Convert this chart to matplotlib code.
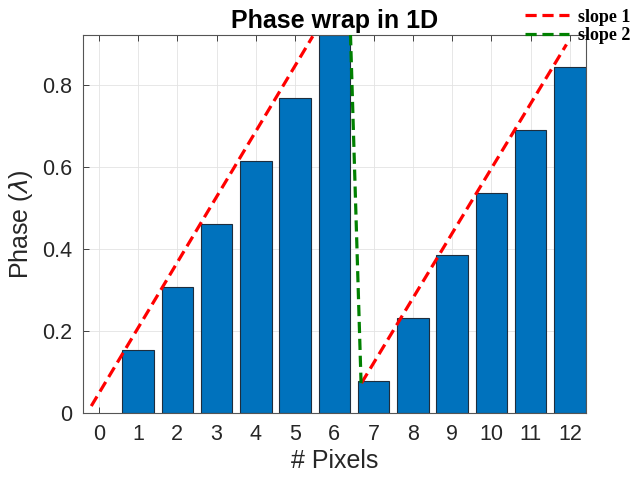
import matplotlib
matplotlib.use("Agg")
import matplotlib.pyplot as plt

# data
pixels = [1, 2, 3, 4, 5, 6, 7, 8, 9, 10, 11, 12]
phase = [0.154, 0.308, 0.462, 0.615, 0.769, 0.923, 0.077, 0.231, 0.385, 0.538, 0.692, 0.846]
xticks = list(range(0, 13))
yticks = [0, 0.2, 0.4, 0.6, 0.8]

# guide lines (x, y) endpoints
slope1_a_x = [-0.19, 5.45]
slope1_a_y = [0.017, 0.92]
slope2_x = [6.41, 6.68]
slope2_y = [0.925, 0.073]
slope1_b_x = [6.69, 11.91]
slope1_b_y = [0.073, 0.90]

plt.rcParams['font.family'] = ['Liberation Sans', 'DejaVu Sans']
plt.rcParams['mathtext.fontset'] = 'dejavusans'

fig = plt.figure(figsize=(6.44, 4.83), dpi=100)
ax = fig.add_axes([0.1289, 0.1449, 0.7806, 0.7826])

ax.bar(pixels, phase, width=0.8, color='#0072BD', edgecolor='#1e2d3d', linewidth=0.8, zorder=2)

l1, = ax.plot(slope1_a_x, slope1_a_y, color='red', lw=2.3, dashes=(3.5, 1.8), zorder=3, label='slope 1')
ax.plot(slope1_b_x, slope1_b_y, color='red', lw=2.3, dashes=(3.5, 1.8), zorder=3)
l2, = ax.plot(slope2_x, slope2_y, color='#008000', lw=2.3, dashes=(3.5, 1.8), zorder=3, label='slope 2')

ax.set_xlim(-0.4, 12.4)
ax.set_ylim(0, 0.923)
ax.set_xticks(xticks)
ax.set_yticks(yticks)
ax.set_yticklabels(['0', '0.2', '0.4', '0.6', '0.8'])

ax.grid(True, color='#e3e3e3', linewidth=0.6, zorder=0)
ax.set_axisbelow(True)
ax.tick_params(direction='in', length=4, width=0.6, colors='#262626',
               labelsize=15.5, top=True, right=True, pad=8)
for s in ax.spines.values():
    s.set_color('#555555')
    s.set_linewidth(0.8)

ax.set_xlabel('# Pixels', fontsize=18, color='#262626', labelpad=3)
ax.set_ylabel(r'Phase ($\lambda$)', fontsize=18, color='#262626', labelpad=5)
ax.set_title('Phase wrap in 1D', fontsize=18, fontweight='bold', pad=5)

fig.legend(handles=[l1, l2], loc='upper right', bbox_to_anchor=(0.998, 1.008),
           frameon=False, prop={'family': 'Liberation Serif', 'weight': 'bold', 'size': 13},
           handlelength=2.4, handletextpad=0.5, labelspacing=0.08, borderpad=0.2)

fig.savefig('out.png', dpi=100)
